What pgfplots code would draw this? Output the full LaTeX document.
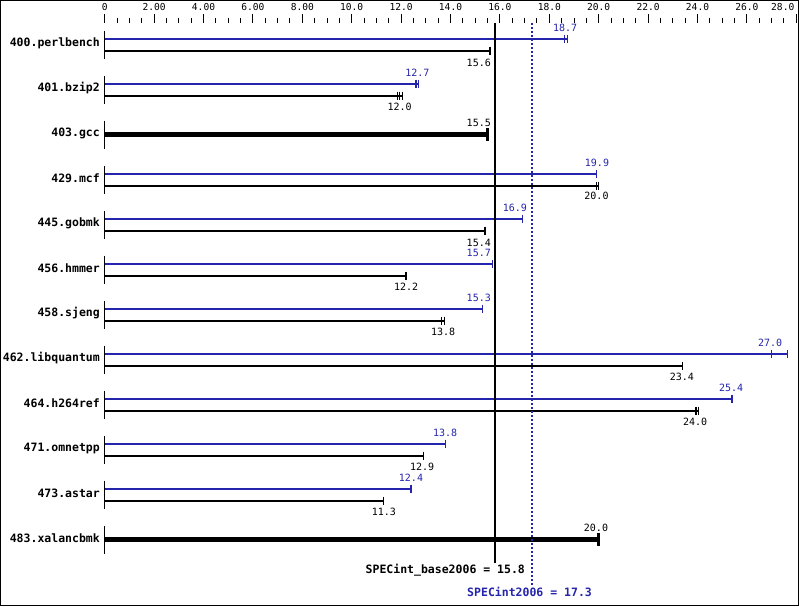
\documentclass[border=0pt]{standalone}
\usepackage{pgfplots}
\pgfplotsset{compat=1.18}
\usepackage{fontspec}
\setmainfont{DejaVu Sans Mono}
\definecolor{specblue}{RGB}{36,36,172}
\newcommand{\valfont}{\fontsize{10}{11}\selectfont}
\newcommand{\namefont}{\fontsize{11.5}{12}\selectfont\bfseries}

\begin{document}
\begin{tikzpicture}
% frame and data
\begin{axis}[
  at={(0,0)}, anchor=south west,
  scale only axis, width=798pt, height=605pt,
  xmin=-4.219, xmax=28.089,
  ymin=0, ymax=605, y dir=reverse,
  xtick=\empty, ytick=\empty,
  axis line style={line width=1pt},
  clip=false,
  unbounded coords=jump,
]
% short axis segments per benchmark
\addplot[black, line width=1pt] coordinates {
(0,30) (0,58) (nan,nan) (0,75) (0,103) (nan,nan) (0,120) (0,148) (nan,nan)
(0,165) (0,193) (nan,nan) (0,210) (0,238) (nan,nan) (0,255) (0,283) (nan,nan)
(0,300) (0,328) (nan,nan) (0,345) (0,373) (nan,nan) (0,390) (0,418) (nan,nan)
(0,435) (0,463) (nan,nan) (0,480) (0,508) (nan,nan) (0,525) (0,553)
};
% peak (blue)
\addplot[specblue, line width=2pt] coordinates {
(0,38) (18.75,38) (nan,nan) (0,83) (12.7,83) (nan,nan)
(0,173) (19.9,173) (nan,nan) (0,218) (16.9,218) (nan,nan)
(0,263) (15.7,263) (nan,nan) (0,308) (15.3,308) (nan,nan)
(0,353) (27.65,353) (nan,nan) (0,398) (25.4,398) (nan,nan)
(0,443) (13.8,443) (nan,nan) (0,488) (12.4,488)
};
\addplot[specblue, only marks, mark=|, mark size=4pt, mark options={line width=1.2pt}] coordinates {
(18.63,38) (18.75,38) (12.6,83) (12.7,83) (19.9,173) (16.9,218)
(15.7,263) (15.3,308) (27.0,353) (27.65,353) (25.4,398) (13.8,443) (12.4,488)
};
% base (black)
\addplot[black, line width=2pt] coordinates {
(0,50) (15.6,50) (nan,nan) (0,95) (12.04,95) (nan,nan)
(0,185) (20.0,185) (nan,nan) (0,230) (15.4,230) (nan,nan)
(0,275) (12.2,275) (nan,nan) (0,320) (13.75,320) (nan,nan)
(0,365) (23.4,365) (nan,nan) (0,410) (24.04,410) (nan,nan)
(0,455) (12.9,455) (nan,nan) (0,500) (11.3,500)
};
\addplot[black, only marks, mark=|, mark size=4pt, mark options={line width=1.2pt}] coordinates {
(15.6,50) (11.86,95) (11.95,95) (12.04,95) (19.9,185) (20.0,185)
(15.4,230) (12.2,275) (13.63,320) (13.75,320) (23.4,365)
(23.94,410) (24.04,410) (12.9,455) (11.3,500)
};
% base = peak (thick)
\addplot[black, line width=4.5pt] coordinates {
(0,134) (15.5,134) (nan,nan) (0,539) (20.0,539)
};
\addplot[black, only marks, mark=|, mark size=6.5pt, mark options={line width=3pt}] coordinates {
(15.5,134) (20.0,539)
};
% overall scores
\addplot[black, line width=2pt] coordinates {(15.8,22) (15.8,562)};
\addplot[specblue, line width=2pt, dash pattern=on 2pt off 2pt] coordinates {(17.3,22) (17.3,584)};

% benchmark names
\begin{scope}[every node/.style={anchor=east, inner sep=0pt, font=\namefont}]
\node at (axis cs:-0.19,43) {400.perlbench};
\node at (axis cs:-0.19,88) {401.bzip2};
\node at (axis cs:-0.19,133) {403.gcc};
\node at (axis cs:-0.19,178) {429.mcf};
\node at (axis cs:-0.19,223) {445.gobmk};
\node at (axis cs:-0.19,268) {456.hmmer};
\node at (axis cs:-0.19,313) {458.sjeng};
\node at (axis cs:-0.19,358) {462.libquantum};
\node at (axis cs:-0.19,403) {464.h264ref};
\node at (axis cs:-0.19,448) {471.omnetpp};
\node at (axis cs:-0.19,493) {473.astar};
\node at (axis cs:-0.19,538) {483.xalancbmk};
\end{scope}

% value labels
\begin{scope}[every node/.style={inner sep=0pt, font=\valfont}]
\node[specblue] at (axis cs:18.64,27) {18.7};
\node[anchor=east] at (axis cs:15.64,62) {15.6};
\node[specblue] at (axis cs:12.66,72) {12.7};
\node at (axis cs:11.94,106) {12.0};
\node[anchor=east] at (axis cs:15.64,122) {15.5};
\node[specblue] at (axis cs:19.93,162) {19.9};
\node at (axis cs:19.91,195) {20.0};
\node[specblue, anchor=west] at (axis cs:16.11,207) {16.9};
\node[anchor=east] at (axis cs:15.64,242) {15.4};
\node[specblue, anchor=east] at (axis cs:15.64,252) {15.7};
\node at (axis cs:12.2,286) {12.2};
\node[specblue, anchor=east] at (axis cs:15.64,297) {15.3};
\node at (axis cs:13.7,331) {13.8};
\node[specblue] at (axis cs:26.94,342) {27.0};
\node at (axis cs:23.37,376) {23.4};
\node[specblue] at (axis cs:25.36,387) {25.4};
\node at (axis cs:23.9,421) {24.0};
\node[specblue] at (axis cs:13.78,432) {13.8};
\node at (axis cs:12.85,466) {12.9};
\node[specblue] at (axis cs:12.4,477) {12.4};
\node at (axis cs:11.3,511) {11.3};
\node at (axis cs:19.89,527) {20.0};
\end{scope}

\node[anchor=east, inner sep=0pt, font=\namefont] at (axis cs:17.02,570) {SPECint\_base2006 = 15.8};
\node[specblue, inner sep=0pt, font=\namefont] at (axis cs:17.2,591) {SPECint2006 = 17.3};
\end{axis}

% top scale
\begin{axis}[
  at={(0,582.5pt)}, anchor=north west,
  scale only axis, width=798pt, height=1pt,
  xmin=-4.219, xmax=28.089, ymin=0, ymax=1,
  axis x line*=top, hide y axis,
  x axis line style={draw=none},
  xtick={0,2,...,28}, minor x tick num=3,
  tick align=outside,
  major tick length=9pt, minor tick length=4.5pt,
  every tick/.style={black, line width=1pt},
  xticklabels={0,2.00,4.00,6.00,8.00,10.0,12.0,14.0,16.0,18.0,20.0,22.0,24.0,26.0,\makebox[0pt][r]{28.0\hspace{2pt}}},
  xticklabel style={font=\fontsize{9.6}{10}\selectfont, inner sep=0pt, yshift=3pt},
]
\addplot[draw=none] coordinates {(0,0)};
\end{axis}
\end{tikzpicture}
\end{document}
